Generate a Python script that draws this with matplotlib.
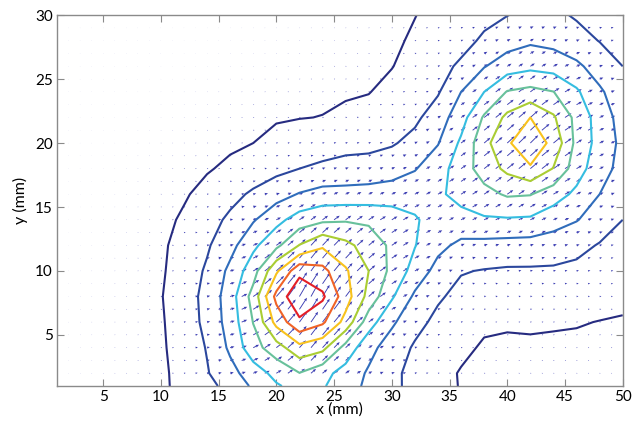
import numpy as np
import matplotlib
matplotlib.use("Agg")
import matplotlib.pyplot as plt

# scalar field (contour-level units), 2 mm grid
field_x = [0, 2, 4, 6, 8, 10, 12, 14, 16, 18, 20, 22, 24, 26, 28, 30, 32, 34, 36, 38, 40, 42, 44, 46, 48, 50]
field_y = [1, 2, 4, 6, 8, 10, 12, 14, 16, 18, 20, 22, 24, 26, 28, 30]
field = [
    [0.25, 0.30, 0.38, 0.50, 0.65, 0.85, 1.24, 1.71, 2.33, 3.15, 3.89, 4.35, 4.10, 3.43, 2.79, 2.21, 1.73, 1.31, 0.95, 0.85, 0.80, 0.75, 0.72, 0.68, 0.64, 0.60],
    [0.25, 0.30, 0.38, 0.50, 0.65, 0.85, 1.27, 1.93, 2.67, 3.50, 4.30, 4.97, 4.32, 3.62, 2.87, 2.23, 1.70, 1.23, 0.95, 0.87, 0.82, 0.78, 0.75, 0.72, 0.68, 0.65],
    [0.25, 0.30, 0.40, 0.52, 0.67, 0.88, 1.37, 2.06, 3.18, 4.62, 5.55, 6.70, 6.29, 4.64, 3.32, 2.50, 1.89, 1.52, 1.15, 0.92, 0.88, 0.87, 0.86, 0.84, 0.82, 0.80],
    [0.25, 0.30, 0.40, 0.53, 0.68, 0.90, 1.49, 2.25, 3.42, 5.03, 7.33, 8.80, 8.16, 6.67, 4.45, 3.17, 2.29, 1.77, 1.45, 1.12, 1.08, 1.12, 1.08, 1.05, 0.98, 0.93],
    [0.22, 0.28, 0.38, 0.50, 0.65, 0.95, 1.55, 2.29, 3.52, 5.38, 8.30, 9.85, 9.17, 7.47, 5.67, 4.13, 2.82, 2.12, 1.73, 1.53, 1.48, 1.50, 1.47, 1.40, 1.30, 1.19],
    [0.20, 0.25, 0.35, 0.47, 0.62, 0.88, 1.46, 2.13, 3.24, 4.58, 6.83, 8.70, 8.30, 7.13, 6.00, 4.73, 3.62, 2.65, 2.06, 1.95, 1.88, 1.88, 1.86, 1.76, 1.62, 1.45],
    [0.18, 0.22, 0.30, 0.42, 0.58, 0.85, 1.33, 1.88, 2.67, 3.78, 4.75, 6.04, 6.85, 6.26, 5.58, 4.81, 4.04, 3.27, 2.76, 2.70, 2.64, 2.60, 2.52, 2.29, 1.93, 1.72],
    [0.16, 0.20, 0.27, 0.37, 0.52, 0.75, 1.13, 1.63, 2.18, 2.91, 3.69, 4.45, 4.80, 4.90, 4.82, 4.60, 4.10, 3.60, 3.70, 3.88, 3.90, 3.85, 3.40, 3.05, 2.55, 2.00],
    [0.15, 0.18, 0.24, 0.33, 0.46, 0.66, 0.90, 1.29, 1.71, 2.15, 2.62, 3.06, 3.35, 3.35, 3.40, 3.45, 3.60, 3.85, 4.29, 4.69, 5.12, 5.05, 4.48, 3.77, 3.00, 2.35],
    [0.13, 0.16, 0.21, 0.28, 0.40, 0.55, 0.75, 0.92, 1.18, 1.46, 1.73, 2.00, 2.18, 2.32, 2.38, 2.60, 2.94, 3.58, 4.49, 5.46, 6.23, 6.90, 5.95, 4.47, 3.38, 2.70],
    [0.12, 0.14, 0.18, 0.24, 0.32, 0.43, 0.55, 0.70, 0.85, 1.00, 1.32, 1.52, 1.56, 1.70, 1.74, 1.90, 2.30, 2.95, 4.17, 5.67, 6.88, 7.60, 6.75, 4.72, 3.63, 2.75],
    [0.10, 0.12, 0.15, 0.19, 0.25, 0.32, 0.42, 0.53, 0.67, 0.80, 0.90, 0.97, 1.02, 1.18, 1.30, 1.55, 1.80, 2.50, 3.59, 5.13, 6.23, 7.00, 6.13, 4.70, 3.56, 2.60],
    [0.10, 0.11, 0.13, 0.16, 0.20, 0.25, 0.32, 0.40, 0.50, 0.60, 0.68, 0.76, 0.83, 0.90, 0.97, 1.26, 1.50, 1.91, 3.00, 4.00, 5.06, 5.30, 5.02, 4.15, 3.15, 2.40],
    [0.09, 0.10, 0.11, 0.13, 0.16, 0.20, 0.25, 0.30, 0.36, 0.43, 0.50, 0.57, 0.65, 0.73, 0.82, 0.97, 1.35, 1.70, 2.15, 2.95, 3.50, 3.75, 3.60, 3.20, 2.55, 2.00],
    [0.08, 0.09, 0.10, 0.11, 0.13, 0.16, 0.20, 0.24, 0.29, 0.34, 0.40, 0.46, 0.53, 0.60, 0.70, 0.85, 1.12, 1.40, 1.70, 2.15, 2.60, 2.85, 2.70, 2.35, 1.97, 1.80],
    [0.07, 0.08, 0.09, 0.10, 0.11, 0.13, 0.16, 0.20, 0.24, 0.28, 0.33, 0.38, 0.44, 0.50, 0.60, 0.75, 0.98, 1.25, 1.50, 1.75, 1.98, 2.25, 2.20, 1.90, 1.75, 1.62],
]

# arrow direction (degrees)
angle_x = [0, 10, 16, 19, 22.5, 26, 30, 34, 38, 42, 46, 50]
angle_y = [0, 4, 8, 12, 16, 20, 24, 30]
angle_deg = [
    [8, 8, 12, 20, 30, 25, 15, 10, 8, 8, 8, 8],
    [8, 8, 14, 30, 48, 40, 20, 12, 8, 8, 8, 8],
    [8, 8, 15, 40, 60, 50, 28, 18, 12, 12, 12, 10],
    [8, 8, 12, 28, 45, 42, 32, 25, 18, 18, 15, 12],
    [6, 6, 10, 15, 22, 25, 25, 28, 32, 32, 25, 18],
    [5, 5, 8, 10, 12, 14, 18, 30, 38, 42, 30, 20],
    [5, 5, 6, 8, 10, 12, 15, 22, 32, 35, 25, 18],
    [5, 5, 5, 6, 8, 10, 12, 15, 20, 22, 18, 15],
]

levels = [1, 2, 3, 4, 5, 6, 7, 8, 9]
level_colors = ["#262b80", "#2b479d", "#306dbb", "#35bde0", "#68c19b",
                "#aacd33", "#f8c21d", "#f06327", "#e41f26"]

# PIV sampling points of the arrows (1 mm pitch)
arrow_x = np.arange(2, 50)
arrow_y = np.arange(2, 30)


def on_grid(table, tx, ty, px, py):
    # bilinear lookup of a read-off table at the arrow positions
    t = np.asarray(table, dtype=float)
    rows = np.array([np.interp(px, tx, r) for r in t])
    return np.array([np.interp(py, ty, rows[:, j]) for j in range(len(px))]).T


plt.rcParams['font.family'] = ['Lato', 'DejaVu Sans']

fig = plt.figure(figsize=(6.4, 4.21), dpi=100)
ax = fig.add_axes([0.089, 0.083, 0.884, 0.881])

F = np.array(field)
ax.contour(field_x, field_y, F, levels=levels, colors=level_colors, linewidths=1.5)

mag = on_grid(field, field_x, field_y, arrow_x, arrow_y)
ang = np.deg2rad(on_grid(angle_deg, angle_x, angle_y, arrow_x, arrow_y))
AX, AY = np.meshgrid(arrow_x, arrow_y)
L = 0.12 * mag
ax.quiver(AX, AY, L * np.cos(ang), L * np.sin(ang), angles='xy', scale_units='xy', scale=1,
          color='#3a3cb2', units='dots', width=0.9, headwidth=3.2, headlength=3.8,
          headaxislength=3.3, minlength=0.3, minshaft=1, pivot='tail')

ax.set_xlim(1, 50)
ax.set_ylim(1, 30)
ax.set_xticks([5, 10, 15, 20, 25, 30, 35, 40, 45, 50])
ax.set_yticks([5, 10, 15, 20, 25, 30])
ax.tick_params(direction='in', length=5, width=0.8, color='#8a8a8a', top=True, right=True,
               labelsize=11, pad=3)
for s in ax.spines.values():
    s.set_color('#8a8a8a')
    s.set_linewidth(1.0)
ax.set_xlabel("x (mm)", fontsize=11.5, labelpad=-1)
ax.set_ylabel("y (mm)", fontsize=11.5, labelpad=5)

fig.savefig("out.png", dpi=100)
